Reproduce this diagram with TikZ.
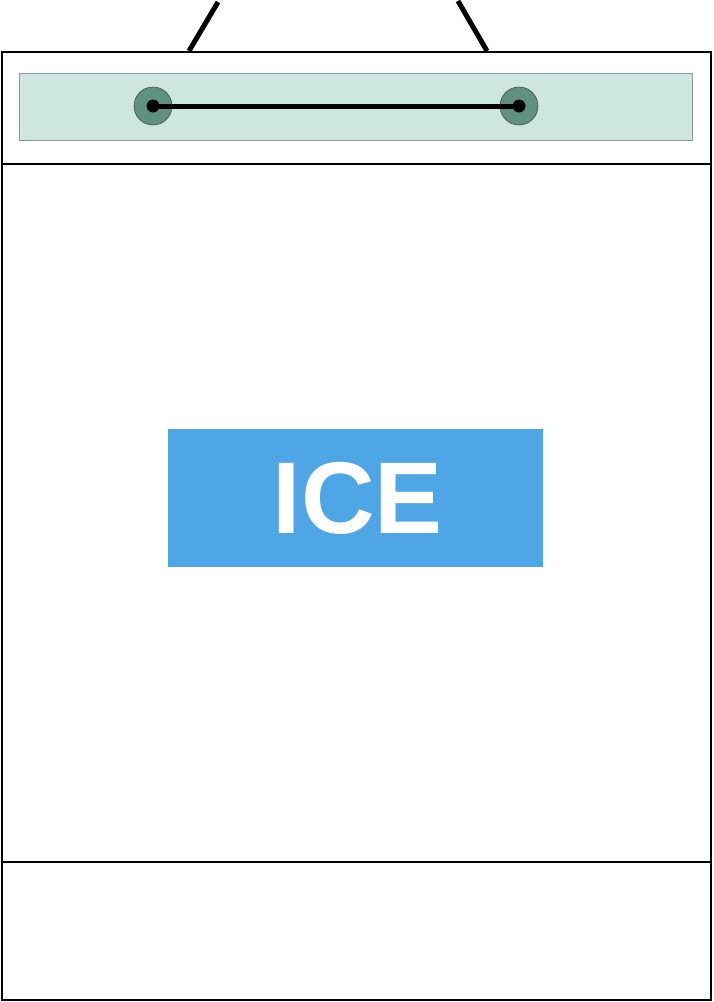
\documentclass[tikz,border=0pt]{standalone}
\usepackage{fontspec}
\setmainfont{Liberation Sans}
\definecolor{bandfill}{HTML}{CDE6DF}
\definecolor{bandedge}{HTML}{8A9A95}
\definecolor{knob}{HTML}{5F9182}
\definecolor{iceblue}{HTML}{4EA6E6}
\tikzset{
  frame/.style={draw=black, line width=2pt},
  hanger/.style={draw=black, line width=5pt},
  knobstyle/.style={circle, draw=black!70, line width=0.6pt, fill=knob, minimum size=38pt, inner sep=0pt},
  dotstyle/.style={circle, fill=black, minimum size=13pt, inner sep=0pt},
}
\begin{document}
\begin{tikzpicture}[x=1pt,y=-1pt]
\useasboundingbox (0,0) rectangle (713,1002);
\fill[white] (0,0) rectangle (713,1002);
% outer box
\draw[frame] (1.5,52) rectangle (711,1000);
\draw[frame] (1.5,164) -- (711,164);
\draw[frame] (1.5,862) -- (711,862);
% band
\node[draw=bandedge, line width=0.8pt, fill=bandfill, minimum width=673pt, minimum height=67pt, inner sep=0pt] (band) at (355.5,106.5) {};
% knobs
\node[knobstyle] (k1) at (153,106) {};
\node[knobstyle] (k2) at (519,106) {};
\node[dotstyle] (d1) at (153,106) {};
\node[dotstyle] (d2) at (519,106) {};
\draw[line width=5pt] (d1.center) -- (d2.center);
% hangers
\coordinate (h1b) at (189,51);
\coordinate (h1t) at (218,2);
\coordinate (h2b) at (487,51);
\coordinate (h2t) at (458,1);
\draw[hanger] (h1b) -- (h1t);
\draw[hanger] (h2b) -- (h2t);
% ICE
\node[fill=iceblue, minimum width=375pt, minimum height=138pt, inner sep=0pt] (ice) at (355.5,498) {};
\node[text=white, font=\fontsize{102}{102}\selectfont\bfseries] (icetext) at (358,498) {ICE};
\end{tikzpicture}
\end{document}
